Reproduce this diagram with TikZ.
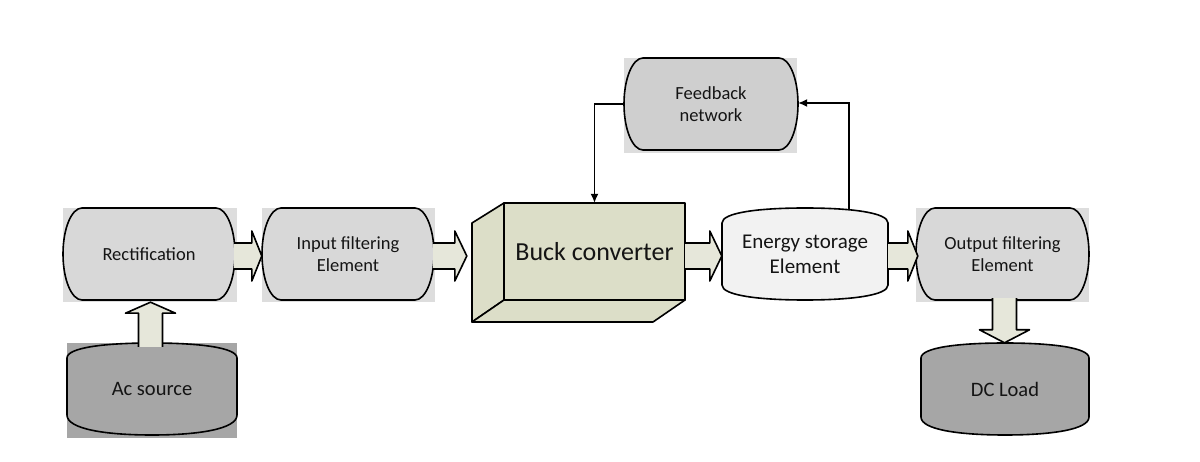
\documentclass[tikz,border=0pt]{standalone}
\usepackage{fontspec}
\setmainfont{Carlito}
\usetikzlibrary{calc,arrows.meta}
\definecolor{bgrey}{HTML}{DDDDDD}
\definecolor{sgrey}{HTML}{D8D8D8}
\definecolor{fgrey}{HTML}{CFCFCF}
\definecolor{dgrey}{HTML}{A6A6A6}
\definecolor{buckfill}{HTML}{DCDEC8}
\definecolor{afill}{HTML}{E6E7DA}
\definecolor{efill}{HTML}{F2F2F2}
\definecolor{txtc}{HTML}{141414}
\tikzset{
  outl/.style={draw=black, line width=1.6pt, line join=round},
  lbl/.style={inner sep=0pt, align=center, text=txtc},
  fs18/.style={font=\fontsize{18.5}{22}\selectfont},
  fs21/.style={font=\fontsize{21}{25}\selectfont},
  fbline/.style={draw=black, line width=1.3pt, -{Latex[length=9pt,width=8pt]}},
}
% stadium: cx, cy, half width, half height, side radius, fill
\newcommand\stadat[6]{%
  \draw[outl, fill=#6] (#1-#3+#5, #2+#4) -- (#1+#3-#5, #2+#4)
    arc[start angle=90, end angle=-90, x radius=#5, y radius=#4]
    -- (#1-#3+#5, #2-#4)
    arc[start angle=270, end angle=90, x radius=#5, y radius=#4] -- cycle;}
% drum: cx, cy, half width, half height, top corner drop, bottom corner rise, fill
\newcommand\drumat[7]{%
  \draw[outl, fill=#7] (#1-#3, #2+#4-#5)
    .. controls (#1-#3, #2+#4-0.3*#5) and (#1-0.55*#3, #2+#4) .. (#1, #2+#4)
    .. controls (#1+0.55*#3, #2+#4) and (#1+#3, #2+#4-0.3*#5) .. (#1+#3, #2+#4-#5)
    -- (#1+#3, #2-#4+#6)
    .. controls (#1+#3, #2-#4+0.3*#6) and (#1+0.55*#3, #2-#4) .. (#1, #2-#4)
    .. controls (#1-0.55*#3, #2-#4) and (#1-#3, #2-#4+0.3*#6) .. (#1-#3, #2-#4+#6)
    -- cycle;}
% horizontal block arrow: from point, to point, head length
\newcommand\harrow[3]{%
  \fill[afill] let \p1=(#1), \p2=(#2) in
    (\x1,\y1+13pt) -- (\x2-#3,\y1+13pt) -- (\x2-#3,\y1+25pt) -- (\x2,\y1)
    -- (\x2-#3,\y1-25pt) -- (\x2-#3,\y1-13pt) -- (\x1,\y1-13pt) -- cycle;
  \draw[outl] let \p1=(#1), \p2=(#2) in
    (\x1,\y1+13pt) -- (\x2-#3,\y1+13pt) -- (\x2-#3,\y1+25pt) -- (\x2,\y1)
    -- (\x2-#3,\y1-25pt) -- (\x2-#3,\y1-13pt) -- (\x1,\y1-13pt);}
% vertical block arrow: from point, to point, head length (signed: + up, - down)
\newcommand\varrow[3]{%
  \fill[afill] let \p1=(#1), \p2=(#2) in
    (\x1-12pt,\y1) -- (\x1-12pt,\y2-#3) -- (\x1-25pt,\y2-#3) -- (\x1,\y2)
    -- (\x1+25pt,\y2-#3) -- (\x1+12pt,\y2-#3) -- (\x1+12pt,\y1) -- cycle;
  \draw[outl] let \p1=(#1), \p2=(#2) in
    (\x1-12pt,\y1) -- (\x1-12pt,\y2-#3) -- (\x1-25pt,\y2-#3) -- (\x1,\y2)
    -- (\x1+25pt,\y2-#3) -- (\x1+12pt,\y2-#3) -- (\x1+12pt,\y1);}
\begin{document}
\begin{tikzpicture}[x=1pt,y=1pt]
\useasboundingbox (0,0) rectangle (1200,461);
\fill[white] (0,0) rectangle (1200,461);

% background rectangles
\fill[bgrey] (63,159) rectangle (237,253);
\fill[bgrey] (262,159) rectangle (435,253);
\fill[bgrey] (624,308) rectangle (797,403);
\fill[bgrey] (916,159) rectangle (1089,253);
\fill[dgrey] (67,23) rectangle (237,118);

% shapes
\stadat{149}{207}{86}{46}{19}{sgrey}
\stadat{348}{207}{86}{46}{19}{sgrey}
\stadat{711}{357}{87}{46}{19}{fgrey}
\stadat{1002.5}{207}{86.5}{46}{19}{sgrey}
\drumat{152}{72}{85}{46}{15}{20}{dgrey}
\drumat{1005}{72}{84}{46}{15}{18}{dgrey}
\drumat{805}{207}{83}{46}{15}{15}{efill}
% buck converter box
\draw[outl, fill=buckfill] (504,258) -- (472,238) -- (472,139) -- (504,161) -- cycle;
\draw[outl, fill=buckfill] (472,139) -- (653,139) -- (685,161) -- (504,161) -- cycle;
\draw[outl, fill=buckfill] (504,161) rectangle (685,258);

% labelled nodes
\node[lbl, fs18, minimum width=172pt, minimum height=92pt] (rect) at (149,207) {Rectification};
\node[lbl, fs18, minimum width=172pt, minimum height=92pt] (input) at (348,207) {Input filtering\\Element};
\node[lbl, font=\fontsize{26}{30}\selectfont, minimum width=181pt, minimum height=97pt] (buck) at (594.5,209.5) {Buck converter};
\node[lbl, fs21, minimum width=166pt, minimum height=92pt] (energy) at (805,207) {Energy storage\\Element};
\node[lbl, fs18, minimum width=173pt, minimum height=92pt] (output) at (1002.5,207) {Output filtering\\Element};
\node[lbl, fs18, minimum width=174pt, minimum height=92pt] (feedback) at (711,357) {Feedback\\network};
\node[lbl, font=\fontsize{20.5}{24}\selectfont, minimum width=170pt, minimum height=92pt] (acsource) at (152,72) {Ac source};
\node[lbl, font=\fontsize{20.5}{24}\selectfont, minimum width=168pt, minimum height=92pt] (dcload) at (1005,72) {DC Load};

% block arrows
\harrow{[xshift=-1pt,yshift=-2pt]rect.east}{[yshift=-2pt]input.west}{10pt}
\harrow{[xshift=-1pt,yshift=-2pt]input.east}{[xshift=-37pt]buck.west}{12pt}
\harrow{[yshift=-4.5pt]buck.east}{energy.west}{12pt}
\harrow{[yshift=-2pt]energy.east}{[xshift=2pt]output.west}{10pt}
\varrow{[xshift=-1.5pt,yshift=-4pt]acsource.north}{[yshift=-2pt]rect.south}{11pt}
\varrow{[xshift=2pt,yshift=2pt]output.south}{dcload.north}{-13pt}

% feedback loop
\coordinate (etop) at (849,251);
\draw[fbline] (feedback.west) -| (buck.north);
\draw[fbline] (etop) |- ([yshift=1pt]feedback.east);
\end{tikzpicture}
\end{document}
